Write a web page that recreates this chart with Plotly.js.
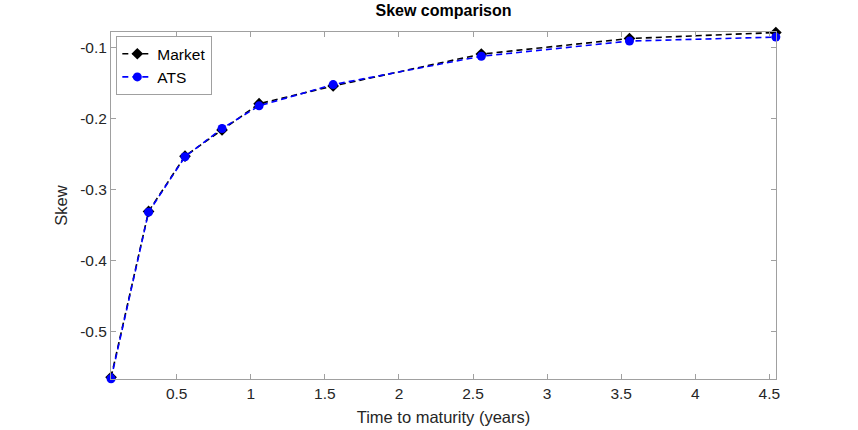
<!DOCTYPE html>
<html><head><meta charset="utf-8">
<script src="https://cdn.plot.ly/plotly-3.0.1.min.js"></script>
<style>body{margin:0;background:#fff}#c{width:858px;height:430px}</style>
</head><body><div id="c"></div>
<script>
var maturity = [0.057, 0.31, 0.556, 0.806, 1.056, 1.556, 2.556, 3.556, 4.544];
var marketSkew = [-0.565, -0.331, -0.253, -0.216, -0.179, -0.154, -0.109, -0.087, -0.0785];
var atsSkew = [-0.5672, -0.332, -0.2538, -0.214, -0.182, -0.152, -0.112, -0.0906, -0.085];

var traces = [
  {x: maturity, y: marketSkew, name: 'Market', mode: 'lines+markers', type: 'scatter',
   line: {color: '#000000', dash: '6px,4px', width: 1.6},
   marker: {symbol: 'diamond', size: 9, color: '#000000'}, cliponaxis: false},
  {x: maturity, y: atsSkew, name: 'ATS', mode: 'lines+markers', type: 'scatter',
   line: {color: '#0000ff', dash: '6px,4px', width: 1.6},
   marker: {symbol: 'circle', size: 9, color: '#0000ff'}, cliponaxis: false}
];

var axisCommon = {
  showgrid: false, zeroline: false, showline: true, linecolor: '#a0a0a0', linewidth: 1,
  mirror: 'ticks', ticks: 'inside', ticklen: 5, tickcolor: '#a0a0a0',
  tickfont: {family: 'Liberation Sans, Arial, sans-serif', size: 15.5, color: '#262626'}
};

var layout = {
  width: 858, height: 430,
  margin: {l: 111, r: 82, t: 32, b: 51},
  paper_bgcolor: '#ffffff', plot_bgcolor: '#ffffff',
  title: {text: '<b>Skew comparison</b>', x: 0.5, xref: 'paper', y: 0.99, yanchor: 'top',
          font: {family: 'Liberation Sans, Arial, sans-serif', size: 16, color: '#000000'}},
  xaxis: Object.assign({}, axisCommon, {
    range: [0.0565, 4.545], tickvals: [0.5, 1, 1.5, 2, 2.5, 3, 3.5, 4, 4.5],
    ticktext: ['0.5', '1', '1.5', '2', '2.5', '3', '3.5', '4', '4.5'],
    title: {text: 'Time to maturity (years)', standoff: 10,
            font: {family: 'Liberation Sans, Arial, sans-serif', size: 16.5, color: '#262626'}}
  }),
  yaxis: Object.assign({}, axisCommon, {
    range: [-0.5675, -0.0778], tickvals: [-0.5, -0.4, -0.3, -0.2, -0.1],
    ticktext: ['-0.5', '-0.4', '-0.3', '-0.2', '-0.1'],
    title: {text: 'Skew', standoff: 8,
            font: {family: 'Liberation Sans, Arial, sans-serif', size: 16.5, color: '#262626'}}
  }),
  legend: {x: 0.008, y: 0.988, xanchor: 'left', yanchor: 'top', bgcolor: '#ffffff',
           bordercolor: '#a0a0a0', borderwidth: 1, tracegroupgap: 0, itemwidth: 30,
           font: {family: 'Liberation Sans, Arial, sans-serif', size: 15.5, color: '#000000'}},
  showlegend: true
};

Plotly.newPlot('c', traces, layout, {displayModeBar: false, staticPlot: true});
</script></body></html>
